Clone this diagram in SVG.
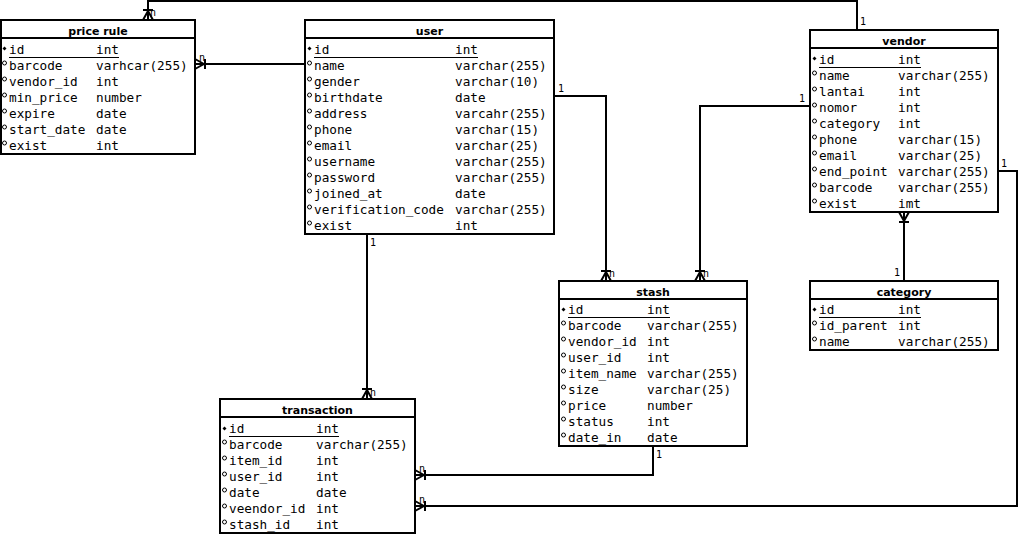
<svg xmlns="http://www.w3.org/2000/svg" width="1019" height="534" viewBox="0 0 1019 534">
<style>
.box{fill:#fff;stroke:#000;stroke-width:2}
.sep{stroke:#000;stroke-width:2}
.t{font-family:"DejaVu Sans","Liberation Sans",sans-serif;font-weight:bold;font-size:11px;text-anchor:middle;fill:#000}
.r{font-family:"DejaVu Sans Mono","Liberation Mono",monospace;font-size:12.7px;fill:#000}
.ul{stroke:#000;stroke-width:1}
.pk{fill:#000}
.fk{fill:none;stroke:#000;stroke-width:1}
.c{fill:none;stroke:#000;stroke-width:2}
.lb{font-family:"DejaVu Sans Mono","Liberation Mono",monospace;font-size:10px;fill:#000}
</style>
<defs>
<marker id="many" markerUnits="userSpaceOnUse" viewBox="0 -6 12 12" refX="11" refY="0" markerWidth="12" markerHeight="12" orient="auto" overflow="visible">
<path d="M1,-5 V5 M2,0 L11,-5 M2,0 L11,5" fill="none" stroke="#000" stroke-width="2"/>
</marker>
</defs>

<g id="connectors">
<path class="c" d="M857,31 V1 H148 V20" marker-end="url(#many)"/>
<path class="c" d="M305,64 H195" marker-end="url(#many)"/>
<path class="c" d="M554,96 H606 V281" marker-end="url(#many)"/>
<path class="c" d="M810,106 H700 V281" marker-end="url(#many)"/>
<path class="c" d="M904,281 V212" marker-end="url(#many)"/>
<path class="c" d="M367,234 V399" marker-end="url(#many)"/>
<path class="c" d="M653,446 V475 H415" marker-end="url(#many)"/>
<path class="c" d="M998,171 H1017 V506 H415" marker-end="url(#many)"/>
<text class="lb" x="860" y="25">1</text>
<text class="lb" x="150" y="16">n</text>
<text class="lb" x="199" y="61">n</text>
<text class="lb" x="308" y="76">1</text>
<text class="lb" x="558" y="92">1</text>
<text class="lb" x="609" y="277">n</text>
<text class="lb" x="703" y="277">n</text>
<text class="lb" x="799" y="102">1</text>
<text class="lb" x="894" y="276">1</text>
<text class="lb" x="1001" y="167">1</text>
<text class="lb" x="370" y="246">1</text>
<text class="lb" x="370" y="396">n</text>
<text class="lb" x="656" y="458">1</text>
<text class="lb" x="419" y="472">n</text>
<text class="lb" x="419" y="503">n</text>
</g>

<g id="price_rule">
<rect class="box" x="1" y="20" width="194" height="134"/>
<line class="sep" x1="1" y1="38" x2="195" y2="38"/>
<text class="t" x="98" y="35">price rule</text>
<path class="pk" d="M4.5,46.5 L6.5,48.5 L4.5,50.5 L2.5,48.5 Z"/>
<line class="ul" x1="9" y1="57.5" x2="119" y2="57.5"/>
<circle class="fk" cx="4.5" cy="63" r="2"/><circle class="fk" cx="4.5" cy="79" r="2"/><circle class="fk" cx="4.5" cy="95" r="2"/><circle class="fk" cx="4.5" cy="111" r="2"/><circle class="fk" cx="4.5" cy="127" r="2"/><circle class="fk" cx="4.5" cy="143" r="2"/>
<text class="r" x="9" y="54">id</text><text class="r" x="96" y="54">int</text>
<text class="r" x="9" y="70">barcode</text><text class="r" x="96" y="70">varhcar(255)</text>
<text class="r" x="9" y="86">vendor_id</text><text class="r" x="96" y="86">int</text>
<text class="r" x="9" y="102">min_price</text><text class="r" x="96" y="102">number</text>
<text class="r" x="9" y="118">expire</text><text class="r" x="96" y="118">date</text>
<text class="r" x="9" y="134">start_date</text><text class="r" x="96" y="134">date</text>
<text class="r" x="9" y="150">exist</text><text class="r" x="96" y="150">int</text>
</g>

<g id="user">
<rect class="box" x="305" y="20" width="249" height="214"/>
<line class="sep" x1="305" y1="38" x2="554" y2="38"/>
<text class="t" x="429.5" y="35">user</text>
<path class="pk" d="M309.5,46.5 L311.5,48.5 L309.5,50.5 L307.5,48.5 Z"/>
<line class="ul" x1="314" y1="57.5" x2="478" y2="57.5"/>
<circle class="fk" cx="309.5" cy="63" r="2"/><circle class="fk" cx="309.5" cy="79" r="2"/><circle class="fk" cx="309.5" cy="95" r="2"/><circle class="fk" cx="309.5" cy="111" r="2"/><circle class="fk" cx="309.5" cy="127" r="2"/><circle class="fk" cx="309.5" cy="143" r="2"/><circle class="fk" cx="309.5" cy="159" r="2"/><circle class="fk" cx="309.5" cy="175" r="2"/><circle class="fk" cx="309.5" cy="191" r="2"/><circle class="fk" cx="309.5" cy="207" r="2"/><circle class="fk" cx="309.5" cy="223" r="2"/>
<text class="r" x="314" y="54">id</text><text class="r" x="455" y="54">int</text>
<text class="r" x="314" y="70">name</text><text class="r" x="455" y="70">varchar(255)</text>
<text class="r" x="314" y="86">gender</text><text class="r" x="455" y="86">varchar(10)</text>
<text class="r" x="314" y="102">birthdate</text><text class="r" x="455" y="102">date</text>
<text class="r" x="314" y="118">address</text><text class="r" x="455" y="118">varcahr(255)</text>
<text class="r" x="314" y="134">phone</text><text class="r" x="455" y="134">varchar(15)</text>
<text class="r" x="314" y="150">email</text><text class="r" x="455" y="150">varchar(25)</text>
<text class="r" x="314" y="166">username</text><text class="r" x="455" y="166">varchar(255)</text>
<text class="r" x="314" y="182">password</text><text class="r" x="455" y="182">varchar(255)</text>
<text class="r" x="314" y="198">joined_at</text><text class="r" x="455" y="198">date</text>
<text class="r" x="314" y="214">verification_code</text><text class="r" x="455" y="214">varchar(255)</text>
<text class="r" x="314" y="230">exist</text><text class="r" x="455" y="230">int</text>
</g>

<g id="vendor">
<rect class="box" x="810" y="30" width="188" height="182"/>
<line class="sep" x1="810" y1="48" x2="998" y2="48"/>
<text class="t" x="904" y="45">vendor</text>
<path class="pk" d="M814.5,56.5 L816.5,58.5 L814.5,60.5 L812.5,58.5 Z"/>
<line class="ul" x1="819" y1="67.5" x2="921" y2="67.5"/>
<circle class="fk" cx="814.5" cy="73" r="2"/><circle class="fk" cx="814.5" cy="89" r="2"/><circle class="fk" cx="814.5" cy="105" r="2"/><circle class="fk" cx="814.5" cy="121" r="2"/><circle class="fk" cx="814.5" cy="137" r="2"/><circle class="fk" cx="814.5" cy="153" r="2"/><circle class="fk" cx="814.5" cy="169" r="2"/><circle class="fk" cx="814.5" cy="185" r="2"/><circle class="fk" cx="814.5" cy="201" r="2"/>
<text class="r" x="819" y="64">id</text><text class="r" x="898" y="64">int</text>
<text class="r" x="819" y="80">name</text><text class="r" x="898" y="80">varchar(255)</text>
<text class="r" x="819" y="96">lantai</text><text class="r" x="898" y="96">int</text>
<text class="r" x="819" y="112">nomor</text><text class="r" x="898" y="112">int</text>
<text class="r" x="819" y="128">category</text><text class="r" x="898" y="128">int</text>
<text class="r" x="819" y="144">phone</text><text class="r" x="898" y="144">varchar(15)</text>
<text class="r" x="819" y="160">email</text><text class="r" x="898" y="160">varchar(25)</text>
<text class="r" x="819" y="176">end_point</text><text class="r" x="898" y="176">varchar(255)</text>
<text class="r" x="819" y="192">barcode</text><text class="r" x="898" y="192">varchar(255)</text>
<text class="r" x="819" y="208">exist</text><text class="r" x="898" y="208">imt</text>
</g>

<g id="stash">
<rect class="box" x="559" y="281" width="188" height="165"/>
<line class="sep" x1="559" y1="299" x2="747" y2="299"/>
<text class="t" x="653" y="296">stash</text>
<path class="pk" d="M563.5,307.5 L565.5,309.5 L563.5,311.5 L561.5,309.5 Z"/>
<line class="ul" x1="568" y1="317.5" x2="670" y2="317.5"/>
<circle class="fk" cx="563.5" cy="323" r="2"/><circle class="fk" cx="563.5" cy="339" r="2"/><circle class="fk" cx="563.5" cy="355" r="2"/><circle class="fk" cx="563.5" cy="371" r="2"/><circle class="fk" cx="563.5" cy="387" r="2"/><circle class="fk" cx="563.5" cy="403" r="2"/><circle class="fk" cx="563.5" cy="419" r="2"/><circle class="fk" cx="563.5" cy="435" r="2"/>
<text class="r" x="568" y="314">id</text><text class="r" x="647" y="314">int</text>
<text class="r" x="568" y="330">barcode</text><text class="r" x="647" y="330">varchar(255)</text>
<text class="r" x="568" y="346">vendor_id</text><text class="r" x="647" y="346">int</text>
<text class="r" x="568" y="362">user_id</text><text class="r" x="647" y="362">int</text>
<text class="r" x="568" y="378">item_name</text><text class="r" x="647" y="378">varchar(255)</text>
<text class="r" x="568" y="394">size</text><text class="r" x="647" y="394">varchar(25)</text>
<text class="r" x="568" y="410">price</text><text class="r" x="647" y="410">number</text>
<text class="r" x="568" y="426">status</text><text class="r" x="647" y="426">int</text>
<text class="r" x="568" y="442">date_in</text><text class="r" x="647" y="442">date</text>
</g>

<g id="category">
<rect class="box" x="810" y="281" width="188" height="69"/>
<line class="sep" x1="810" y1="299" x2="998" y2="299"/>
<text class="t" x="904" y="296">category</text>
<path class="pk" d="M814.5,307.5 L816.5,309.5 L814.5,311.5 L812.5,309.5 Z"/>
<line class="ul" x1="819" y1="317.5" x2="921" y2="317.5"/>
<circle class="fk" cx="814.5" cy="323" r="2"/><circle class="fk" cx="814.5" cy="339" r="2"/>
<text class="r" x="819" y="314">id</text><text class="r" x="898" y="314">int</text>
<text class="r" x="819" y="330">id_parent</text><text class="r" x="898" y="330">int</text>
<text class="r" x="819" y="346">name</text><text class="r" x="898" y="346">varchar(255)</text>
</g>

<g id="transaction">
<rect class="box" x="220" y="399" width="195" height="134"/>
<line class="sep" x1="220" y1="417" x2="415" y2="417"/>
<text class="t" x="317.5" y="414">transaction</text>
<path class="pk" d="M224.5,426.5 L226.5,428.5 L224.5,430.5 L222.5,428.5 Z"/>
<line class="ul" x1="229" y1="436.5" x2="339" y2="436.5"/>
<circle class="fk" cx="224.5" cy="442" r="2"/><circle class="fk" cx="224.5" cy="458" r="2"/><circle class="fk" cx="224.5" cy="474" r="2"/><circle class="fk" cx="224.5" cy="490" r="2"/><circle class="fk" cx="224.5" cy="506" r="2"/><circle class="fk" cx="224.5" cy="522" r="2"/>
<text class="r" x="229" y="433">id</text><text class="r" x="316" y="433">int</text>
<text class="r" x="229" y="449">barcode</text><text class="r" x="316" y="449">varchar(255)</text>
<text class="r" x="229" y="465">item_id</text><text class="r" x="316" y="465">int</text>
<text class="r" x="229" y="481">user_id</text><text class="r" x="316" y="481">int</text>
<text class="r" x="229" y="497">date</text><text class="r" x="316" y="497">date</text>
<text class="r" x="229" y="513">veendor_id</text><text class="r" x="316" y="513">int</text>
<text class="r" x="229" y="529">stash_id</text><text class="r" x="316" y="529">int</text>
</g>
</svg>
